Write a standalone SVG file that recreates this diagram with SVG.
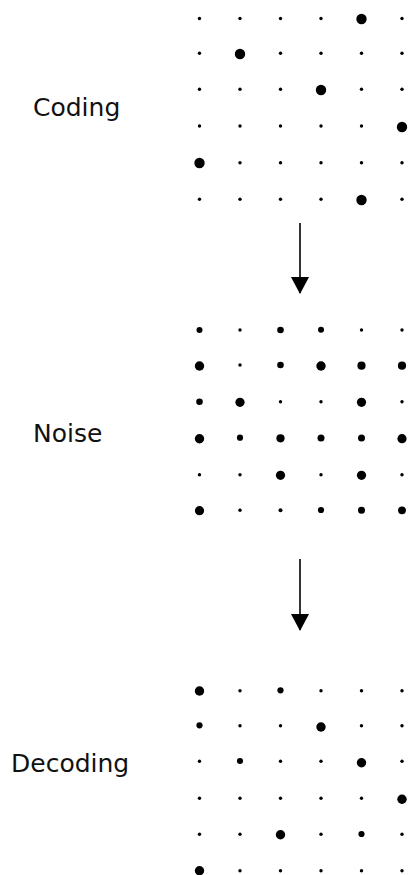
<svg xmlns="http://www.w3.org/2000/svg" width="409" height="875" viewBox="0 0 409 875">
<style>
.lbl{font-family:"DejaVu Sans","Liberation Sans",sans-serif;font-size:25px;fill:#111}
circle{fill:#000}
.conn line{stroke:#000;stroke-width:1.6}
</style>
<defs>
<marker id="ah" markerWidth="17" markerHeight="18" refX="16" refY="9" orient="auto" markerUnits="userSpaceOnUse" viewBox="0 0 17 18">
<path d="M0,0 L17,9 L0,18 Z" fill="#000"/>
</marker>
</defs>
<rect width="409" height="875" fill="#fff"/>
<g id="coding">
<text class="lbl" x="33" y="116">Coding</text>
<g id="coding-grid">
<circle cx="199.5" cy="18.5" r="1.7"/><circle cx="240" cy="18.5" r="1.7"/><circle cx="280.5" cy="18.5" r="1.7"/><circle cx="321" cy="18.5" r="1.7"/><circle cx="361.5" cy="19" r="5.2"/><circle cx="402" cy="18.5" r="1.7"/>
<circle cx="199.5" cy="53.3" r="1.7"/><circle cx="240" cy="54" r="5.2"/><circle cx="280.5" cy="53.3" r="1.7"/><circle cx="321" cy="53.3" r="1.7"/><circle cx="361.5" cy="53.3" r="1.7"/><circle cx="402" cy="53.3" r="1.7"/>
<circle cx="199.5" cy="89.3" r="1.7"/><circle cx="240" cy="89.3" r="1.7"/><circle cx="280.5" cy="89.3" r="1.7"/><circle cx="321" cy="90" r="5.2"/><circle cx="361.5" cy="89.3" r="1.7"/><circle cx="402" cy="89.3" r="1.7"/>
<circle cx="199.5" cy="126" r="1.7"/><circle cx="240" cy="126" r="1.7"/><circle cx="280.5" cy="126" r="1.7"/><circle cx="321" cy="126" r="1.7"/><circle cx="361.5" cy="126" r="1.7"/><circle cx="402" cy="127" r="5.2"/>
<circle cx="199.5" cy="163" r="5.2"/><circle cx="240" cy="162.7" r="1.7"/><circle cx="280.5" cy="162.7" r="1.7"/><circle cx="321" cy="162.7" r="1.7"/><circle cx="361.5" cy="162.7" r="1.7"/><circle cx="402" cy="162.7" r="1.7"/>
<circle cx="199.5" cy="199.3" r="1.7"/><circle cx="240" cy="199.3" r="1.7"/><circle cx="280.5" cy="199.3" r="1.7"/><circle cx="321" cy="199.3" r="1.7"/><circle cx="361.5" cy="200" r="5.2"/><circle cx="402" cy="199.3" r="1.7"/>
</g>
</g>
<g id="noise">
<text class="lbl" x="33" y="442">Noise</text>
<g id="noise-grid">
<circle cx="199.5" cy="330" r="3"/><circle cx="240" cy="330" r="1.7"/><circle cx="280.5" cy="330" r="3.3"/><circle cx="321" cy="329.7" r="3"/><circle cx="361.5" cy="330" r="1.7"/><circle cx="402" cy="330" r="1.7"/>
<circle cx="199.5" cy="366" r="4.7"/><circle cx="240" cy="365" r="1.7"/><circle cx="280.5" cy="365" r="3.3"/><circle cx="321" cy="366" r="4.7"/><circle cx="361.5" cy="365.7" r="4.1"/><circle cx="402" cy="365.7" r="4.1"/>
<circle cx="199.5" cy="401.7" r="3.3"/><circle cx="240" cy="402.3" r="4.6"/><circle cx="280.5" cy="401.7" r="1.7"/><circle cx="321" cy="401.7" r="1.7"/><circle cx="361.5" cy="402.3" r="4.6"/><circle cx="402" cy="401.7" r="1.7"/>
<circle cx="199.5" cy="438.7" r="4.7"/><circle cx="240" cy="437.7" r="3.1"/><circle cx="280.5" cy="438.3" r="4.1"/><circle cx="321" cy="438" r="3.5"/><circle cx="361.5" cy="438" r="3.5"/><circle cx="402" cy="438.7" r="4.6"/>
<circle cx="199.5" cy="474.7" r="1.7"/><circle cx="240" cy="474.7" r="1.7"/><circle cx="280.5" cy="475.3" r="4.6"/><circle cx="321" cy="474.7" r="1.7"/><circle cx="361.5" cy="475.3" r="4.6"/><circle cx="402" cy="474.7" r="1.7"/>
<circle cx="199.5" cy="510.7" r="4.6"/><circle cx="240" cy="510.3" r="1.7"/><circle cx="280.5" cy="510.3" r="2"/><circle cx="321" cy="510" r="3.1"/><circle cx="361.5" cy="510.3" r="3.5"/><circle cx="402" cy="510.3" r="3.9"/>
</g>
</g>
<g id="decoding">
<text class="lbl" x="11" y="772">Decoding</text>
<g id="decoding-grid">
<circle cx="199.5" cy="691" r="4.7"/><circle cx="240" cy="690.7" r="1.7"/><circle cx="280.5" cy="690.3" r="3.1"/><circle cx="321" cy="690.7" r="1.7"/><circle cx="361.5" cy="690.7" r="1.7"/><circle cx="402" cy="690.7" r="1.7"/>
<circle cx="199.5" cy="725.3" r="3.1"/><circle cx="240" cy="725.7" r="1.7"/><circle cx="280.5" cy="725.7" r="1.7"/><circle cx="321" cy="727" r="4.7"/><circle cx="361.5" cy="725.7" r="1.7"/><circle cx="402" cy="725.7" r="1.7"/>
<circle cx="199.5" cy="761.3" r="1.7"/><circle cx="240" cy="761" r="3.1"/><circle cx="280.5" cy="761.3" r="1.7"/><circle cx="321" cy="761.3" r="1.7"/><circle cx="361.5" cy="762.7" r="4.7"/><circle cx="402" cy="761.3" r="1.7"/>
<circle cx="199.5" cy="798.3" r="1.7"/><circle cx="240" cy="798.3" r="1.7"/><circle cx="280.5" cy="798.3" r="1.7"/><circle cx="321" cy="798.3" r="1.7"/><circle cx="361.5" cy="798.3" r="1.7"/><circle cx="402" cy="799.3" r="4.7"/>
<circle cx="199.5" cy="834.3" r="1.7"/><circle cx="240" cy="834.3" r="1.7"/><circle cx="280.5" cy="834.7" r="4.7"/><circle cx="321" cy="834.3" r="1.7"/><circle cx="361.5" cy="834" r="3.1"/><circle cx="402" cy="834.3" r="1.7"/>
<circle cx="199.5" cy="870.7" r="4.7"/><circle cx="240" cy="870.7" r="1.7"/><circle cx="280.5" cy="870.7" r="1.7"/><circle cx="321" cy="870.7" r="1.7"/><circle cx="361.5" cy="870.7" r="1.7"/><circle cx="402" cy="870.7" r="1.7"/>
</g>
</g>
<g id="connectors" class="conn">
<line x1="300" y1="223" x2="300" y2="293" marker-end="url(#ah)"/>
<line x1="300" y1="559" x2="300" y2="630" marker-end="url(#ah)"/>
</g>
</svg>
